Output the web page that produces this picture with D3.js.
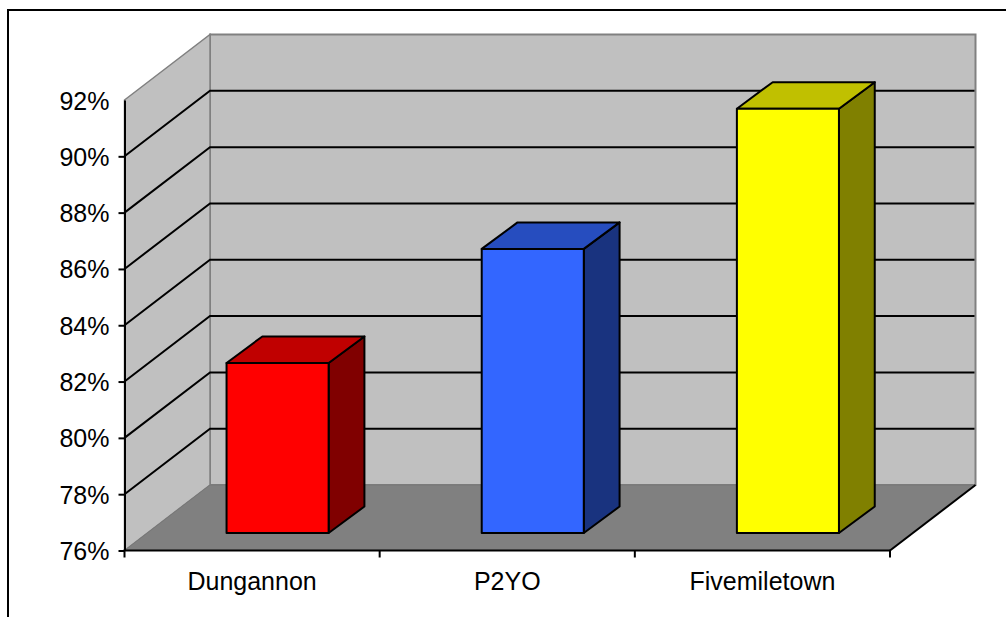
<!DOCTYPE html>
<html><head><meta charset="utf-8">
<script src="https://cdn.jsdelivr.net/npm/d3@7"></script>
<style>html,body{margin:0;padding:0;background:#fff}svg{display:block}text{font-family:"Liberation Sans",Arial,sans-serif;fill:#000}</style>
</head><body><svg id="c" width="1006" height="617"></svg>
<script>
const categories = ["Dungannon","P2YO","Fivemiletown"];
const values = [82.04,86.09,91.07];
const frontColors = ["#ff0000","#3366ff","#ffff00"];
const topColors = ["#c00000","#264dbf","#c0c000"];
const sideColors = ["#800000","#19337f","#808000"];
const yTicks = [76,78,80,82,84,86,88,90,92];

const svg = d3.select("#c");
const x0 = 124.5, x1 = 890, yB = 550.5, yT = 100;
const dx = 85.5, dy = -65.5;          // wall depth
const barOff = [25.5,-17.5], barD = [35.8,-26.5];
const y = d3.scaleLinear().domain([76,92]).range([yB,yT]);
const x = d3.scaleBand().domain(categories).range([x0,x1]).paddingInner(0.6).paddingOuter(0.3);
const pts = a => a.map(p=>p.join(",")).join(" ");
const yMin = y.domain()[0], yMax = y.domain()[1];

// frame
svg.append("path").attr("d","M8 617V10H1006").attr("fill","none").attr("stroke","#000").attr("stroke-width",2);

// walls and floor
svg.append("polygon").attr("points",pts([[x0+dx,y(yMax)+dy],[x1+dx,y(yMax)+dy],[x1+dx,yB+dy],[x0+dx,yB+dy]]))
  .attr("fill","#c0c0c0").attr("stroke","#808080").attr("stroke-width",2);
svg.append("polygon").attr("points",pts([[x0,y(yMax)],[x0+dx,y(yMax)+dy],[x0+dx,yB+dy],[x0,yB]]))
  .attr("fill","#c0c0c0").attr("stroke","#808080").attr("stroke-width",1.5);
svg.append("polygon").attr("points",pts([[x0,yB],[x0+dx,yB+dy],[x1+dx,yB+dy],[x1,yB]]))
  .attr("fill","#808080").attr("stroke","#777").attr("stroke-width",1);

// gridlines (the top and bottom of the range are wall edges)
const gridV = yTicks.filter(d=>d>yMin && d<yMax);
svg.append("g").selectAll("path").data(gridV).join("path")
  .attr("d",d=>`M${x0} ${y(d)}L${x0+dx} ${y(d)+dy}L${x1+dx-1} ${y(d)+dy}`)
  .attr("fill","none").attr("stroke","#000").attr("stroke-width",2);
svg.append("line").attr("x1",x1).attr("y1",yB).attr("x2",x1+dx).attr("y2",yB+dy).attr("stroke","#000").attr("stroke-width",2);

// bars
const bars = svg.append("g").selectAll("g").data(categories).join("g")
  .attr("stroke","#000").attr("stroke-width",2).attr("stroke-linejoin","round");
bars.each(function(c,i){
  const g = d3.select(this);
  const l = x(c)+barOff[0], r = l+x.bandwidth();
  const t = y(values[i])+barOff[1], b = yB+barOff[1];
  g.append("polygon").attr("points",pts([[r,t],[r+barD[0],t+barD[1]],[r+barD[0],b+barD[1]],[r,b]])).attr("fill",sideColors[i]);
  g.append("polygon").attr("points",pts([[l,t],[l+barD[0],t+barD[1]],[r+barD[0],t+barD[1]],[r,t]])).attr("fill",topColors[i]);
  g.append("rect").attr("x",l).attr("y",t).attr("width",r-l).attr("height",b-t).attr("fill",frontColors[i]);
});

// value axis
const ya = svg.append("g").attr("transform",`translate(${x0},0)`)
  .call(d3.axisLeft(y).tickValues(yTicks).tickFormat(d=>d+"%").tickSize(6).tickSizeOuter(0).tickPadding(9));
ya.selectAll("path,line").attr("stroke","#000").attr("stroke-width",2);
ya.selectAll(".tick").filter(d=>d===yMax).select("line").remove();
ya.selectAll("text").attr("font-size",25).attr("dy","0.36em").style("font-family",'"Liberation Sans",Arial,sans-serif');

// category axis
const xa = svg.append("g").attr("transform",`translate(0,${yB})`);
xa.append("line").attr("x1",x0-1).attr("x2",x1+1).attr("stroke","#000").attr("stroke-width",2);
const step = x.step();
xa.selectAll("line.t").data(d3.range(categories.length+1)).join("line").attr("class","t")
  .attr("x1",i=>x0+i*step).attr("x2",i=>x0+i*step).attr("y1",0).attr("y2",7).attr("stroke","#000").attr("stroke-width",2);
xa.selectAll("text").data(categories).join("text")
  .attr("x",c=>x(c)+x.bandwidth()/2).attr("y",39.5).attr("text-anchor","middle").attr("font-size",25).text(c=>c);
</script></body></html>
